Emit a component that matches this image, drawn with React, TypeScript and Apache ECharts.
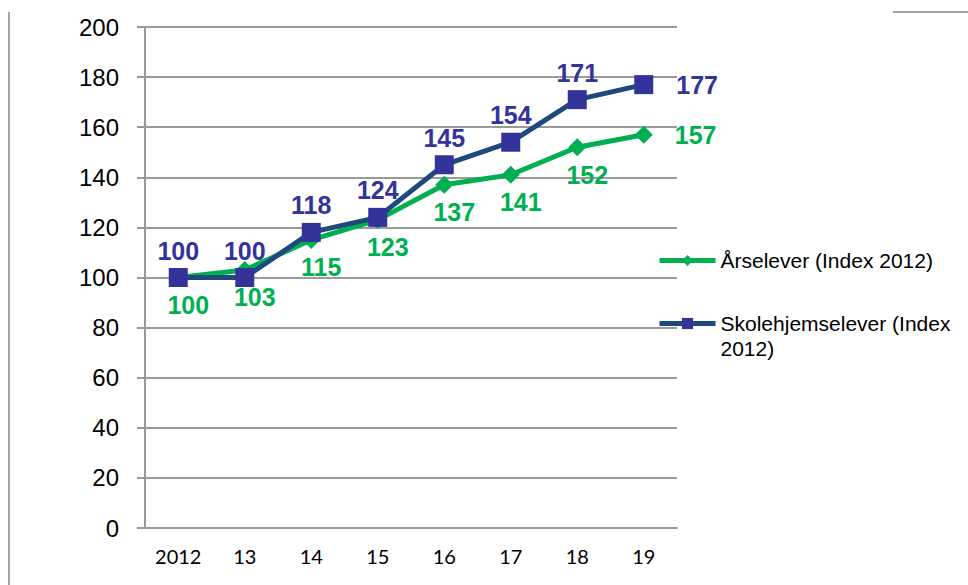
import React, { useEffect, useRef } from "react";
import * as echarts from "echarts";

const categories = ["2012", "13", "14", "15", "16", "17", "18", "19"];
const arseleverName = "Årselever (Index 2012)";
const skolehjemName = "Skolehjemselever (Index 2012)";
const arselever = [100, 103, 115, 123, 137, 141, 152, 157];
const skolehjem = [100, 100, 118, 124, 145, 154, 171, 177];
const yTicks = { min: 0, max: 200, interval: 20 };

const GREEN = "#00B050";
const BLUE_LINE = "#1F497D";
const BLUE_MARK = "#333399";
const GRID = "#9A9A9A";
const FONT = "'Liberation Sans', Arial, sans-serif";

export default function App() {
  const ref = useRef<HTMLDivElement>(null);
  useEffect(() => {
    document.body.style.margin = "0";
    const chart = echarts.init(ref.current!, null, { renderer: "svg" });
    const last = (arr: number[]) => arr.length - 1;
    const legendText = { fontFamily: FONT, fontSize: 21, color: "#000", lineHeight: 25 };
    const option: any = {
      animation: false,
      backgroundColor: "#ffffff",
      grid: { left: 145, right: 291, top: 27, bottom: 57, containLabel: false },
      xAxis: {
        type: "category",
        data: categories,
        boundaryGap: true,
        axisLine: { show: true, lineStyle: { color: GRID, width: 2 } },
        axisTick: { show: false },
        axisLabel: { color: "#000", fontFamily: "Lato, sans-serif", fontSize: 20, margin: 18 },
        splitLine: { show: false },
      },
      yAxis: {
        type: "value",
        min: yTicks.min,
        max: yTicks.max,
        interval: yTicks.interval,
        axisLine: { show: true, lineStyle: { color: GRID, width: 2 } },
        axisTick: { show: true, length: 8, lineStyle: { color: GRID, width: 2 } },
        axisLabel: { color: "#000", fontFamily: FONT, fontSize: 24, margin: 26 },
        splitLine: { show: true, lineStyle: { color: GRID, width: 2 } },
      },
      legend: [
        {
          data: [arseleverName],
          orient: "vertical",
          left: 657,
          top: 248,
          padding: 0,
          itemWidth: 56,
          itemHeight: 14,
          itemGap: 4,
          lineStyle: { width: 5 },
          textStyle: legendText,
        },
        {
          data: [skolehjemName],
          orient: "vertical",
          left: 657,
          top: 286,
          padding: 0,
          itemWidth: 56,
          itemHeight: 14,
          itemGap: 4,
          lineStyle: { width: 5 },
          formatter: () => "\nSkolehjemselever (Index\n2012)",
          textStyle: legendText,
        },
      ],
      series: [
        {
          name: arseleverName,
          type: "line",
          data: arselever.map((v, i) =>
            i === last(arselever)
              ? { value: v, label: { position: "right", distance: 22, offset: [0, 0] } }
              : v
          ),
          symbol: "diamond",
          symbolSize: 18,
          lineStyle: { color: GREEN, width: 5 },
          itemStyle: { color: GREEN },
          label: {
            show: true,
            position: "bottom",
            distance: 6,
            offset: [10, 0],
            color: GREEN,
            fontFamily: FONT,
            fontWeight: "bold",
            fontSize: 25,
          },
          z: 2,
        },
        {
          name: skolehjemName,
          type: "line",
          data: skolehjem.map((v, i) =>
            i === last(skolehjem)
              ? { value: v, label: { position: "right", distance: 23, offset: [0, 0] } }
              : v
          ),
          symbol: "rect",
          symbolSize: 19,
          lineStyle: { color: BLUE_LINE, width: 5 },
          itemStyle: { color: BLUE_MARK },
          label: {
            show: true,
            position: "top",
            distance: 5,
            color: BLUE_MARK,
            fontFamily: FONT,
            fontWeight: "bold",
            fontSize: 25,
          },
          z: 3,
        },
      ],
      graphic: [
        {
          type: "line",
          shape: { x1: 9, y1: 12, x2: 9, y2: 585 },
          style: { stroke: "#A6A6A6", lineWidth: 2 },
        },
        {
          type: "line",
          shape: { x1: 893, y1: 12, x2: 968, y2: 12 },
          style: { stroke: "#A6A6A6", lineWidth: 2 },
        },
      ],
    };
    chart.setOption(option);
    return () => chart.dispose();
  }, []);
  return (
    <div
      ref={ref}
      style={{ position: "absolute", left: 0, top: 0, width: 968, height: 585 }}
    />
  );
}
